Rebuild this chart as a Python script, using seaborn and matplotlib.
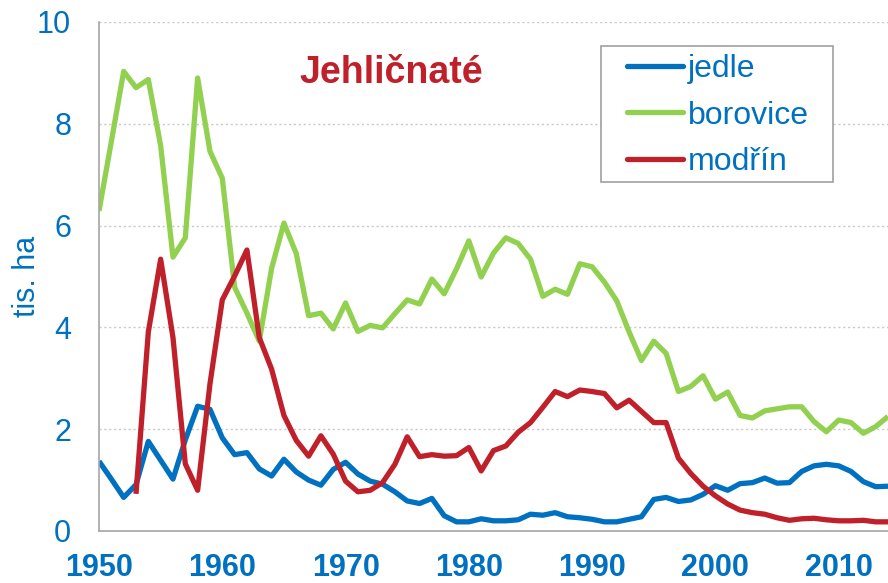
import matplotlib
matplotlib.use("Agg")
import matplotlib.pyplot as plt
from matplotlib.patches import Rectangle
import seaborn as sns
import numpy as np
import pandas as pd

# data (tis. ha)
years = list(range(1950, 2015))

jedle = [1.37, 1.02, 0.66, 0.91, 1.76, 1.39, 1.02, 1.79, 2.45, 2.39,
         1.83, 1.50, 1.54, 1.22, 1.08, 1.41, 1.16, 1.00, 0.90, 1.21,
         1.35, 1.12, 0.98, 0.92, 0.77, 0.59, 0.54, 0.64, 0.30, 0.18,
         0.18, 0.24, 0.20, 0.20, 0.22, 0.33, 0.31, 0.36, 0.28, 0.26,
         0.23, 0.18, 0.18, 0.23, 0.28, 0.62, 0.66, 0.58, 0.61, 0.72,
         0.89, 0.80, 0.93, 0.95, 1.04, 0.94, 0.95, 1.17, 1.28, 1.31,
         1.28, 1.17, 0.97, 0.87, 0.88]

borovice = [6.29, 7.65, 9.03, 8.71, 8.87, 7.57, 5.38, 5.76, 8.90, 7.46,
            6.93, 4.79, 4.28, 3.73, 5.16, 6.05, 5.45, 4.23, 4.28, 3.97,
            4.48, 3.92, 4.04, 3.99, 4.27, 4.54, 4.46, 4.95, 4.66, 5.15,
            5.70, 4.99, 5.46, 5.76, 5.65, 5.34, 4.61, 4.75, 4.65, 5.25,
            5.19, 4.89, 4.52, 3.91, 3.35, 3.73, 3.49, 2.74, 2.84, 3.05,
            2.59, 2.73, 2.27, 2.22, 2.36, 2.40, 2.44, 2.44, 2.15, 1.95,
            2.18, 2.13, 1.92, 2.05, 2.25]

# modrin starts in 1953
modrin = [np.nan, np.nan, np.nan,
          0.73, 3.91, 5.34, 3.80, 1.32, 0.80, 2.89, 4.54, 5.01, 5.52,
          3.80, 3.18, 2.27, 1.78, 1.47, 1.87, 1.51, 0.98, 0.77, 0.80,
          0.95, 1.31, 1.85, 1.46, 1.50, 1.47, 1.48, 1.64, 1.18, 1.58,
          1.67, 1.94, 2.13, 2.43, 2.74, 2.64, 2.77, 2.74, 2.70, 2.42,
          2.57, 2.35, 2.13, 2.13, 1.43, 1.13, 0.88, 0.69, 0.53, 0.41,
          0.36, 0.33, 0.26, 0.21, 0.24, 0.25, 0.22, 0.20, 0.20, 0.21,
          0.18, 0.18]

series_names = ["jedle", "borovice", "modřín"]
colors = ["#0070C0", "#92D050", "#C0202A"]
text_blue = "#0070C0"

df = pd.DataFrame({"rok": years, "jedle": jedle, "borovice": borovice, "modřín": modrin})
long_df = df.melt(id_vars="rok", var_name="druh", value_name="plocha").dropna()

sns.set_style("white")
plt.rcParams['font.family'] = ['Liberation Sans', 'DejaVu Sans']

fig = plt.figure(figsize=(8.88, 5.83), dpi=100)
ax = fig.add_axes([0.1115, 0.0892, 0.8885, 0.8731])

sns.lineplot(data=long_df, x="rok", y="plocha", hue="druh", hue_order=series_names,
             palette=colors, linewidth=3.8, ax=ax, solid_capstyle="butt")

ax.set_xlim(1950, 2014)
ax.set_ylim(0, 10)
ax.set_xticks(range(1950, 2011, 10))
ax.set_yticks(range(0, 11, 2))

# dotted grid
ax.yaxis.grid(True, linestyle=(0, (1.5, 2)), color="#C8C8C8", linewidth=1)
ax.set_axisbelow(True)

for s in ["top", "right"]:
    ax.spines[s].set_visible(False)
for s in ["left", "bottom"]:
    ax.spines[s].set_color("#A6A6A6")
    ax.spines[s].set_linewidth(1.2)

ax.tick_params(axis="x", direction="out", length=6.5, width=1.2, color="#A6A6A6",
               pad=9, labelsize=22, labelcolor=text_blue)
ax.tick_params(axis="y", direction="out", length=7, width=1.2, color="#A6A6A6",
               pad=13, labelsize=22, labelcolor=text_blue)
for lab in ax.get_xticklabels():
    lab.set_fontweight("bold")

ax.set_xlabel("")
ax.set_ylabel("tis. ha", fontsize=22, color=text_blue, labelpad=-3.5)

ax.text(0.370, 0.880, "Jehličnaté", transform=ax.transAxes, ha="center", va="baseline",
        fontsize=27, fontweight="bold", color="#C0202A")

# legend without its own frame, box drawn separately (wider side padding)
leg = ax.legend(loc="upper left", bbox_to_anchor=(0.669, 0.937), borderaxespad=0,
                fontsize=23, labelcolor=text_blue, frameon=False,
                handlelength=1.75, handletextpad=0.15, labelspacing=0.52, borderpad=0)
for line in leg.get_lines():
    line.set_linewidth(3.8)
    line.set_solid_capstyle("round")
ax.add_patch(Rectangle((0.6362, 0.6857), 0.2941, 0.2677, transform=ax.transAxes,
                       fill=True, facecolor="white", edgecolor="#A0A0A0", linewidth=1.2,
                       zorder=4, clip_on=False))
leg.set_zorder(5)

plt.savefig("out.png", dpi=100)
